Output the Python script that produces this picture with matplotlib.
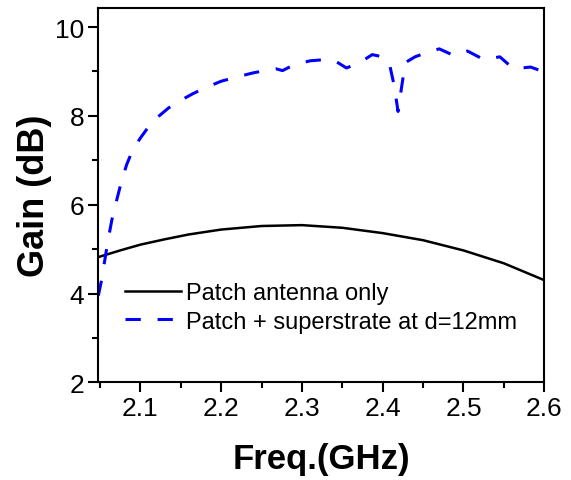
import matplotlib
matplotlib.use("Agg")
import matplotlib.pyplot as plt
from matplotlib.ticker import MultipleLocator, FixedLocator

plt.rcParams['font.family'] = ['Liberation Sans', 'DejaVu Sans']

# Patch antenna only (black solid)
freq_patch = [2.048, 2.075, 2.10, 2.13, 2.16, 2.20, 2.25, 2.30, 2.35, 2.40, 2.45, 2.50, 2.55, 2.60]
gain_patch = [4.82, 4.97, 5.10, 5.22, 5.33, 5.44, 5.52, 5.54, 5.48, 5.36, 5.20, 4.97, 4.68, 4.30]

# Patch + superstrate at d=12mm (blue dashed)
freq_super = [2.048, 2.052, 2.056, 2.060, 2.065, 2.070, 2.076, 2.083, 2.091, 2.100,
              2.110, 2.120, 2.135, 2.150, 2.165, 2.180, 2.200, 2.220, 2.240, 2.260,
              2.268, 2.276, 2.290, 2.310, 2.330, 2.340, 2.355, 2.370, 2.387, 2.400,
              2.408, 2.414, 2.419, 2.423, 2.428, 2.440, 2.455, 2.470, 2.488, 2.505,
              2.525, 2.545, 2.562, 2.583, 2.600]
gain_super = [3.95, 4.30, 4.75, 5.20, 5.68, 6.05, 6.48, 6.90, 7.25, 7.50,
              7.75, 7.95, 8.18, 8.35, 8.50, 8.63, 8.78, 8.88, 8.97, 9.04,
              9.06, 9.02, 9.15, 9.24, 9.27, 9.25, 9.08, 9.18, 9.38, 9.33,
              9.20, 8.70, 8.10, 8.60, 9.20, 9.33, 9.43, 9.51, 9.36, 9.46,
              9.27, 9.33, 9.06, 9.10, 8.99]

labels = ["Patch antenna only", "Patch + superstrate at d=12mm"]
xticks = [2.1, 2.2, 2.3, 2.4, 2.5, 2.6]
xtick_labels = ["2.1", "2.2", "2.3", "2.4", "2.5", "2.6"]
yticks = [2, 4, 6, 8, 10]

fig = plt.figure(figsize=(5.71, 4.81), dpi=100)
ax = fig.add_axes([0.1722, 0.2031, 0.781, 0.7782])

ax.plot(freq_patch, gain_patch, color='black', lw=1.8, label=labels[0])
ax.plot(freq_super, gain_super, color='#0000ff', lw=2.2, dashes=(5.0, 5.5),
        label=labels[1])

ax.set_xlim(2.048, 2.6)
ax.set_ylim(2, 10.43)
ax.set_xticks(xticks)
ax.set_xticklabels(xtick_labels)
ax.xaxis.set_minor_locator(FixedLocator([2.05, 2.15, 2.25, 2.35, 2.45, 2.55]))
ax.set_yticks(yticks)
ax.yaxis.set_minor_locator(MultipleLocator(1))

for s in ax.spines.values():
    s.set_linewidth(1.5)
ax.tick_params(which='major', direction='out', length=7, width=1.5,
               labelsize=19, pad=3)
ax.tick_params(which='minor', direction='out', length=4, width=1.5)
ax.tick_params(top=False, right=False)

ax.set_xlabel("Freq.(GHz)", fontsize=25, fontweight='bold', labelpad=16)
ax.set_ylabel("Gain (dB)", fontsize=26, fontweight='bold', labelpad=2)

ax.legend(loc='center left', bbox_to_anchor=(0.06, 0.2), frameon=False,
          fontsize=17, handlelength=2.35, handletextpad=0.25,
          labelspacing=0.27, borderpad=0, borderaxespad=0)

fig.savefig("out.png", dpi=100)
